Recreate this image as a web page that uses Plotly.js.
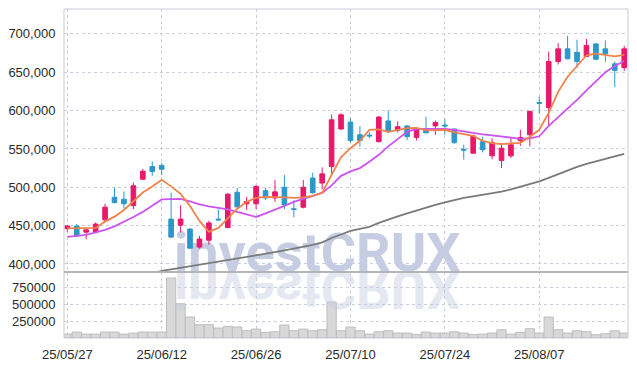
<!DOCTYPE html>
<html><head><meta charset="utf-8">
<script src="https://cdn.plot.ly/plotly-3.0.1.min.js"></script>
<style>html,body{margin:0;padding:0;background:#fff}#chart{width:637px;height:366px}</style>
</head><body><div id="chart"></div>
<script>
const dates = ['25/05/27','25/05/28','25/05/29','25/05/30','25/06/02','25/06/04','25/06/05','25/06/09','25/06/10','25/06/11',
'25/06/12','25/06/13','25/06/16','25/06/17','25/06/18','25/06/19','25/06/20','25/06/23','25/06/24','25/06/25',
'25/06/26','25/06/27','25/06/30','25/07/01','25/07/02','25/07/03','25/07/04','25/07/07','25/07/08','25/07/09',
'25/07/10','25/07/11','25/07/14','25/07/15','25/07/16','25/07/17','25/07/18','25/07/21','25/07/22','25/07/23',
'25/07/24','25/07/25','25/07/28','25/07/29','25/07/30','25/07/31','25/08/01','25/08/04','25/08/05','25/08/06',
'25/08/07','25/08/08','25/08/11','25/08/12','25/08/13','25/08/14','25/08/18','25/08/19','25/08/20','25/08/21'];

const openP = [446000,449500,441500,441500,457500,487000,484500,476000,510500,527000,
528500,458500,450500,445500,422000,431000,458500,447500,493500,478500,
478500,495500,486000,500000,472000,474000,512000,505500,527000,576000,
585000,568500,568000,559500,586500,574500,580000,565000,575500,580000,
581000,576000,549500,544500,559500,541000,535000,541000,561000,568500,
610500,604000,664000,680500,676000,670500,687000,680500,661000,656000];
const highP = [451000,452000,445500,454000,478500,500000,494500,506000,524000,533500,
531500,493000,476500,446500,436500,456500,471000,492500,499000,487500,
503000,499000,509500,516000,483000,509500,519000,526000,595000,596500,
590000,580000,572000,593000,600000,586000,581000,577000,592000,587000,
589000,576500,555500,568500,566000,564000,557500,565000,575000,599500,
618500,677000,688000,697500,692500,693500,688000,691500,664000,684500];
const lowP = [442000,436000,432000,440000,455500,479000,472000,471500,509500,515000,
516000,433500,441000,420000,420000,425000,456500,446500,472500,470500,
471500,483500,481000,471500,461000,472500,491500,497500,516000,575000,
558500,553000,564000,558500,570500,571500,561500,561000,570500,568500,
568500,556500,536000,543500,545500,536500,525000,538000,554000,553500,
596000,578500,660000,667000,655500,670000,665500,663500,630500,651500];
const closeP = [449500,436500,444500,452000,474000,480000,478500,502000,521000,520500,
523500,435000,458500,420500,432500,453500,457500,491000,474500,481500,
501000,486000,494000,477000,471000,500000,493000,517500,588000,594500,
561000,561000,567000,591500,572500,579000,566000,576000,571000,584500,
580000,558500,548500,567000,549000,558500,551000,555500,565000,599000,
609500,664000,680500,667500,664000,685000,667000,674000,652500,680500];

const ma5 = [446300,446300,446300,447000,455200,461700,470400,481300,493100,500900,
509700,501200,491400,475700,456100,441800,447000,459400,472000,481000,
486200,487500,487500,486800,486200,486800,488800,492700,516200,539000,
551000,560600,574900,575600,572300,574500,577200,577500,574500,574300,
575000,571700,569300,567100,560600,557600,556300,556700,558000,565800,
575000,597100,624500,644100,657800,672200,674200,672800,670600,672800];
const ma20 = [435200,436500,437900,441100,444400,449000,454800,461300,467900,476400,
484200,484500,484900,481600,477700,475100,473100,471200,467900,464600,
461300,466000,470500,475700,481000,484900,488800,492700,502500,514900,
520800,525000,533200,542300,553400,563200,572300,576200,576200,576200,
576200,574900,572900,570400,569100,567800,566200,565100,563200,563900,
566500,580100,591300,602400,614100,626500,638200,650000,658100,664600];
const ma60 = [null,null,null,null,null,null,null,null,null,387600,
390900,392800,394800,396500,398700,400600,402600,404800,406900,408900,
410800,413000,415300,417600,419900,422200,424800,428100,433900,438400,
443100,445700,448300,453500,458100,462000,465900,469800,473400,477000,
480300,483500,486200,488100,490100,492300,494400,497300,500500,503800,
507700,512300,517100,522100,526600,530500,533800,537100,540300,543600];
const volume = [59000,89000,59000,59000,89000,89000,59000,74000,89000,89000,
89000,898000,513000,314000,199000,199000,149000,174000,164000,109000,
134000,84000,94000,194000,109000,134000,109000,124000,538000,109000,
164000,109000,59000,94000,109000,74000,74000,54000,89000,74000,
74000,94000,74000,54000,59000,74000,124000,59000,84000,139000,
74000,314000,124000,74000,109000,94000,49000,64000,109000,74000];

const priceTicks = [400000,450000,500000,550000,600000,650000,700000];
const volTicks = [250000,500000,750000];
const watermark = 'investCRUX';

const UP = '#e8196a', DOWN = '#2c97c9';
const split = 0.2006;
const gridC = '#c9cde0';

const traces = [
  {type:'bar', x:dates, y:volume, xaxis:'x', yaxis:'y2',
   marker:{color:'rgb(216,216,216)', line:{color:'rgb(190,190,190)', width:1}}, hoverinfo:'skip'},
  {type:'candlestick', x:dates, open:openP, high:highP, low:lowP, close:closeP, xaxis:'x', yaxis:'y',
   increasing:{line:{color:UP, width:1}, fillcolor:UP},
   decreasing:{line:{color:DOWN, width:1}, fillcolor:DOWN},
   whiskerwidth:0, hoverinfo:'skip'},
  {type:'scatter', mode:'lines', x:dates, y:ma60, xaxis:'x', yaxis:'y',
   line:{color:'#7a7a7a', width:1.8}, hoverinfo:'skip', connectgaps:false},
  {type:'scatter', mode:'lines', x:dates, y:ma20, xaxis:'x', yaxis:'y',
   line:{color:'#cc55ee', width:1.8}, hoverinfo:'skip'},
  {type:'scatter', mode:'lines', x:dates, y:ma5, xaxis:'x', yaxis:'y',
   line:{color:'#f0824a', width:1.8}, hoverinfo:'skip'}
];

const axisFont = {family:'Liberation Sans, Arial, sans-serif', size:13, color:'#2a2a2a'};
const layout = {
  width:637, height:366,
  margin:{l:64, r:9, t:9, b:28, pad:0},
  paper_bgcolor:'#ffffff', plot_bgcolor:'#ffffff',
  showlegend:false, bargap:0.02,
  font:axisFont,
  xaxis:{type:'category', anchor:'y2', range:[-0.35,59.4], rangeslider:{visible:false},
    tickmode:'linear', tick0:0, dtick:10,
    showgrid:true, gridcolor:gridC, gridwidth:1, griddash:'dot',
    ticks:'outside', ticklen:4, tickcolor:'rgba(0,0,0,0)',
    showline:false, zeroline:false, tickfont:axisFont, fixedrange:true},
  yaxis:{domain:[split,1], range:[389500,732500], tickmode:'array', tickvals:priceTicks,
    tickformat:',d', showgrid:true, gridcolor:gridC, gridwidth:1, griddash:'dot',
    ticks:'outside', ticklen:5, tickcolor:'rgba(0,0,0,0)', zeroline:false, showline:false,
    tickfont:axisFont, fixedrange:true},
  yaxis2:{domain:[0,split], range:[0,988000], tickmode:'array', tickvals:volTicks,
    tickformat:'d', showgrid:true, gridcolor:gridC, gridwidth:1, griddash:'dot',
    ticks:'outside', ticklen:5, tickcolor:'rgba(0,0,0,0)', zeroline:false, showline:false,
    tickfont:axisFont, fixedrange:true},
  shapes:[
    {type:'rect', xref:'paper', yref:'paper', x0:0, x1:1, y0:split, y1:1, line:{color:'#c7cad8', width:1}},
    {type:'rect', xref:'paper', yref:'paper', x0:0, x1:1, y0:0, y1:split, line:{color:'#c7cad8', width:1}},
    {type:'line', xref:'paper', yref:'paper', x0:0, x1:1, y0:split, y1:split, line:{color:'#aaaaaa', width:1.5}}
  ],
  annotations:[
    {xref:'paper', yref:'paper', x:(317-64)/564, y:split, xanchor:'center', yanchor:'bottom',
     text:'<b>'+watermark+'</b>', showarrow:false,
     font:{family:'Roboto, Liberation Sans, sans-serif', size:54, color:'rgb(198,205,226)'}}
  ]
};

const gd = document.getElementById('chart');
Plotly.newPlot(gd, traces, layout, {staticPlot:true, displayModeBar:false}).then(function(){
  try {
    const ns = 'http://www.w3.org/2000/svg';
    const ann = gd.querySelector('.annotation');
    const txt = ann.querySelector('text');
    const r = txt.getBoundingClientRect();
    const g0 = gd.getBoundingClientRect();
    const baseline = (r.top - g0.top) + r.height * 0.792;
    const B = 271;
    const dy = B - baseline;
    const mainSvg = gd.querySelector('svg.main-svg');
    const cart = mainSvg.querySelector('.cartesianlayer');
    const wrap = document.createElementNS(ns, 'g');
    wrap.setAttribute('transform', 'translate(0,' + dy + ')');
    const refl = document.createElementNS(ns, 'g');
    refl.setAttribute('transform', 'translate(0,' + (2 * B) + ') scale(1,-1) translate(0,' + dy + ')');
    refl.setAttribute('opacity', '0.45');
    refl.appendChild(ann.cloneNode(true));
    wrap.appendChild(ann);
    cart.parentNode.insertBefore(wrap, cart);
    cart.parentNode.insertBefore(refl, cart.nextSibling);
  } catch (e) { console.log(e); }
});
</script>
</body></html>
